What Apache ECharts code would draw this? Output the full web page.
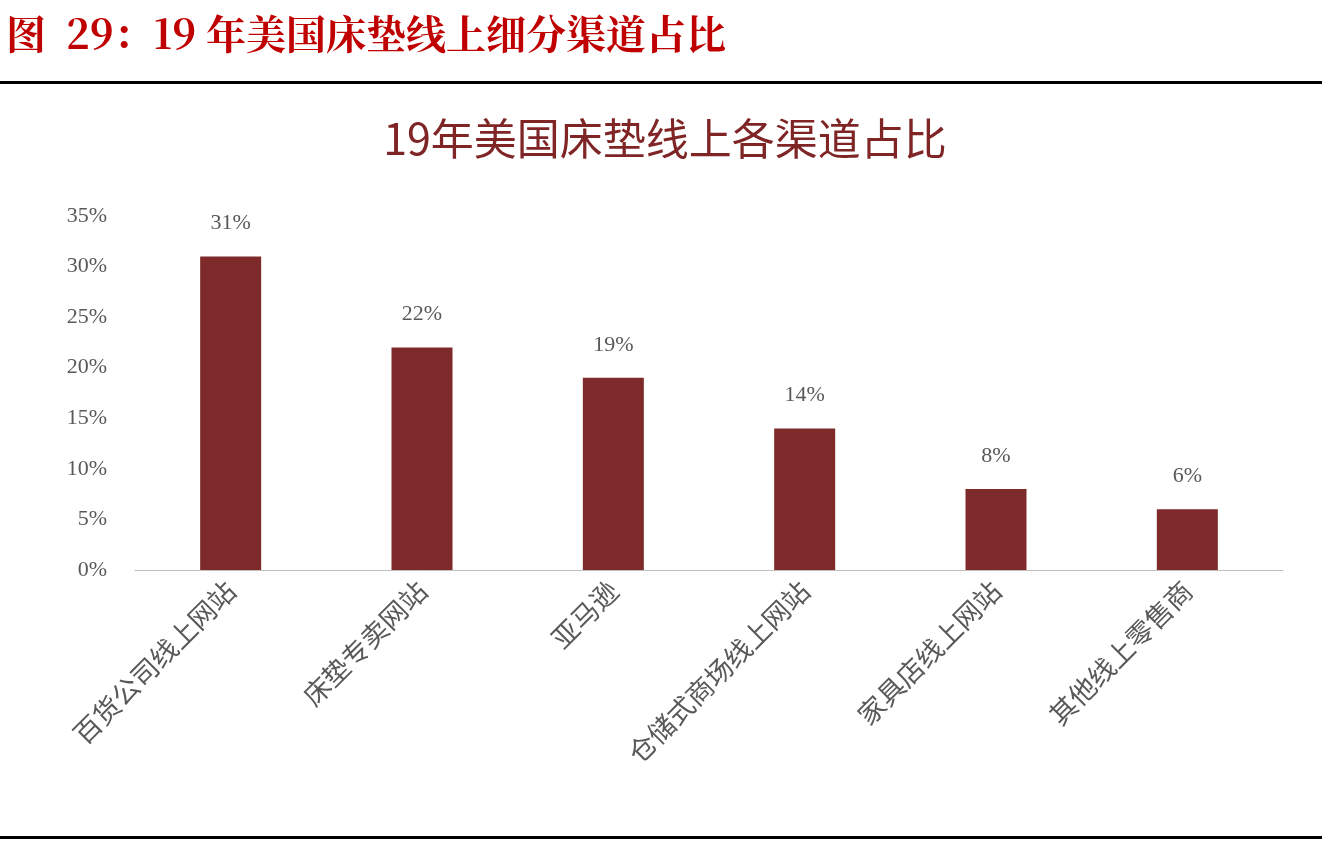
<!DOCTYPE html>
<html><head><meta charset="utf-8">
<script src="https://cdn.jsdelivr.net/npm/echarts@6/dist/echarts.min.js"></script>
<style>body{margin:0;background:#fff}#c{width:1330px;height:850px}</style>
</head><body><div id="c"></div>
<script>
const categories=['百货公司线上网站','床垫专卖网站','亚马逊','仓储式商场线上网站','家具店线上网站','其他线上零售商'];
const values=[31,22,19,14,8,6];
const chart=echarts.init(document.getElementById('c'));
chart.setOption({
  animation:false,
  graphic:[
    {type:'text',left:6,top:14,style:{text:'图  29：19 年美国床垫线上细分渠道占比',font:'bold 40px "Noto Serif CJK SC","Noto Sans CJK SC"',fill:'#c00000'}},
    {type:'rect',shape:{x:0,y:81,width:1322,height:3},style:{fill:'#000'}},
    {type:'rect',shape:{x:0,y:836,width:1322,height:3},style:{fill:'#000'}}
  ],
  title:{text:'19年美国床垫线上各渠道占比',left:'center',top:112,textStyle:{fontSize:43,fontWeight:'normal',color:'#7f2525',fontFamily:'Noto Sans CJK SC'}},
  grid:{left:135,right:47,top:216,bottom:280},
  xAxis:{type:'category',data:categories,axisTick:{show:false},
    axisLine:{lineStyle:{color:'#bfbfbf'}},
    axisLabel:{rotate:45,color:'#595959',fontSize:27,fontFamily:'Noto Sans CJK SC',margin:16,interval:0}},
  yAxis:{type:'value',min:0,max:35,interval:5,splitLine:{show:false},
    axisLabel:{formatter:'{value}%',color:'#595959',fontSize:22,fontFamily:'Liberation Serif',margin:28}},
  series:[{type:'bar',data:values,barWidth:61,itemStyle:{color:'#7f2a2a'},
    label:{show:true,position:'top',distance:22,formatter:'{c}%',color:'#595959',fontSize:22,fontFamily:'Liberation Serif'}}]
});
</script></body></html>
